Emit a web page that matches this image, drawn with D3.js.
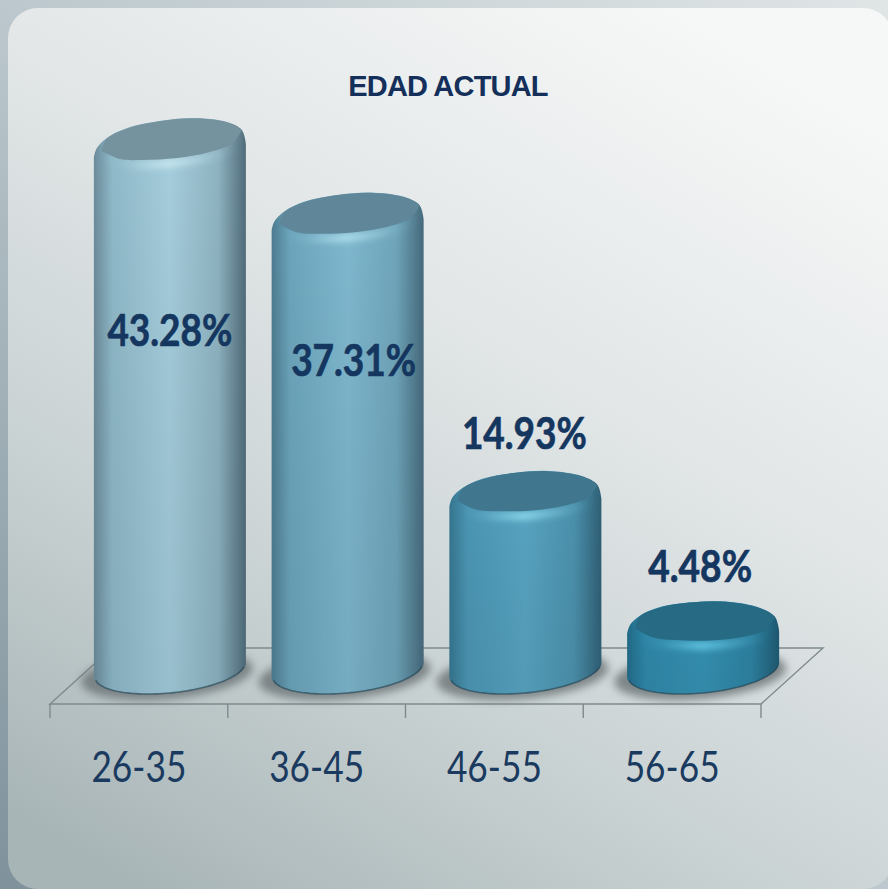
<!DOCTYPE html>
<html>
<head>
<meta charset="utf-8">
<script src="https://cdn.jsdelivr.net/npm/d3@7"></script>
<style>
  html, body { margin: 0; padding: 0; overflow: hidden; }
  svg { display: block; }
</style>
</head>
<body>
<svg id="drawing_region"></svg>
<script>
const title = "EDAD ACTUAL";
const categories = ["26-35", "36-45", "46-55", "56-65"];
const values = [43.28, 37.31, 14.93, 4.48];

// colours per bar: [edge left, mid, centre, mid right, edge right, top face, rim light]
const barColors = [
    ["#6c8c9b", "#8fb9c9", "#a6cedd", "#8eb3c1", "#516c7a", "#75929f", "#c8e8f0"],
    ["#4d7c90", "#6ca5bc", "#7fb8cf", "#6fa5ba", "#466a7c", "#5f8699", "#b0e0ec"],
    ["#357690", "#4c97b5", "#58a5c3", "#4c92ae", "#2f6076", "#40778f", "#90dcee"],
    ["#226c8a", "#2f88aa", "#3492b4", "#2d82a2", "#1f5a72", "#276a84", "#66cae6"]
];
const labelShift = [228, 184, -21, -18];   // label baseline relative to bar top
const labelNudge = [0, 6, -1, -3];
const flatten = [0, 0.015, 0.035, 0.07];   // caps lean less towards the right of the picture

// cylinder cap outlines, as [dx from centre, dy from bar top]
const shoulder = [[-76, 39], [-73, 30], [-63, 20], [-43, 10], [-10, 3], [23, 0], [57, 4], [72, 12], [76, 26]];
const faceBack = [[-68, 33], [-64, 21.5], [-43, 10.5], [-10, 3], [23, 0.3], [57, 4.3], [72, 12]];
const faceFront = [[72, 12], [63, 25], [40, 34], [7, 40], [-27, 42], [-50, 41], [-68, 33]];

const width = 888, height = 889;
const floor = {left: 50, right: 761, front: 704, back: 648, depthX: 62};
const barW = 152, rise = 31, baseY = 694;

const svg = d3.select("#drawing_region").attr("width", width).attr("height", height);
const defs = svg.append("defs");

function linGrad(id, x1, y1, x2, y2, stops) {
    const g = defs.append("linearGradient").attr("id", id)
        .attr("x1", x1).attr("y1", y1).attr("x2", x2).attr("y2", y2);
    stops.forEach(s => g.append("stop").attr("offset", s[0]).attr("stop-color", s[1]).attr("stop-opacity", s[2] === undefined ? 1 : s[2]));
}

linGrad("outerBg", 0, 1, 1, 0, [[0, "#7f929c"], [0.5, "#bcc8cd"], [1, "#e0e5e6"]]);
linGrad("cardBg", 0.15, 1, 0.75, 0, [[0, "#a8b5b7"], [0.3, "#c8d1d2"], [0.65, "#e3e7e8"], [1, "#f6f7f7"]]);
linGrad("sideShade", 0, 0, 0, 1, [[0, "#000", 0], [1, "#203a44", 0.1]]);

[["blur4", 4], ["blur3", 3], ["soft", 0.6]].forEach(b => {
    defs.append("filter").attr("id", b[0])
        .attr("x", "-30%").attr("y", "-60%").attr("width", "160%").attr("height", "220%")
        .append("feGaussianBlur").attr("stdDeviation", b[1]);
});

svg.append("rect").attr("width", width).attr("height", height).attr("fill", "url(#outerBg)");
svg.append("rect").attr("x", 8).attr("y", 8).attr("width", 885).attr("height", 881)
    .attr("rx", 30).attr("fill", "url(#cardBg)");

const x = d3.scaleBand().domain(categories).range([floor.left, floor.right]);
const y = d3.scaleLinear().domain([0, 43.28]).range([655.6, 118]);

const chart = svg.append("g");

// floor
const floorPath = d3.path();
floorPath.moveTo(floor.left, floor.front);
floorPath.lineTo(floor.right, floor.front);
floorPath.lineTo(floor.right + floor.depthX, floor.back);
floorPath.lineTo(floor.left + floor.depthX, floor.back);
floorPath.closePath();
chart.append("path").attr("d", floorPath.toString())
    .attr("fill", "none").attr("stroke", "#7f8a8d").attr("stroke-width", 1.4);

// ticks at the band edges
const edges = categories.map(c => x(c)).concat([floor.right]);
chart.selectAll(".edge").data(edges).enter().append("line")
    .attr("class", "edge")
    .attr("x1", d => d).attr("x2", d => d)
    .attr("y1", floor.front).attr("y2", floor.front + 14)
    .attr("stroke", "#7f8a8d").attr("stroke-width", 1.4);

// tilted ellipse, k leans the right side up
function ellArc(cx, cy, rx, b, k, t0, t1) {
    const pts = d3.range(0, 61).map(i => {
        const t = t0 + (t1 - t0) * i / 60;
        return [cx + rx * Math.cos(t), cy + b * Math.sin(t) + k * Math.cos(t)];
    });
    return d3.line()(pts);
}
const capLine = d3.line().curve(d3.curveCatmullRom);

const rx = barW / 2;

const bars = chart.selectAll(".bar").data(values).enter().append("g").attr("class", "bar");

bars.each(function(v, i) {
    const g = d3.select(this);
    const c = barColors[i];
    const cx = x(categories[i]) + x.bandwidth() / 2 + rise;
    const topY = y(v);
    const botC = baseY - 24;
    const place = (profile, dy) => profile.map(p => [cx + p[0], topY + p[1] + (dy || 0) + p[0] * flatten[i]]);

    linGrad("body" + i, 0, 0, 1, 0, [[0, c[0]], [0.12, c[1]], [0.5, c[2]], [0.82, c[3]], [1, c[4]]]);

    // ground shadow
    g.append("path")
        .attr("d", ellArc(cx - 3, botC + 5, rx + 10, 24, -7, 0, Math.PI * 2) + "Z")
        .attr("fill", "#6b7275").attr("opacity", 0.8).attr("filter", "url(#blur4)");

    const shape = g.append("g").attr("filter", "url(#soft)");

    // body outline: shoulder over the top, sides, front of the foot
    const body = capLine(place(shoulder))
        + "L" + ellArc(cx, botC, rx, 23, -7, 0, Math.PI).slice(1) + "Z";
    shape.append("path").attr("d", body).attr("fill", `url(#body${i})`);
    shape.append("path").attr("d", body).attr("fill", "url(#sideShade)");

    // dark seam along the foot
    shape.append("path")
        .attr("d", ellArc(cx, botC, rx - 1, 23, -7, 0.15, Math.PI - 0.15))
        .attr("fill", "none").attr("stroke", "#2c4a58").attr("stroke-width", 1.6).attr("opacity", 0.7);

    // rim highlight below the top face
    const clipId = "clip" + i;
    defs.append("clipPath").attr("id", clipId).append("path").attr("d", body);
    const rim = shape.append("g").attr("clip-path", `url(#${clipId})`);
    linGrad("rim" + i, 1, 0, 0, 0, [[0, c[3], 0], [0.28, c[6], 0.4], [0.52, c[6], 1], [0.7, c[6], 0.5], [1, c[1], 0]]);
    rim.append("path")
        .attr("d", capLine(place(faceFront, 5)))
        .attr("fill", "none").attr("stroke", `url(#rim${i})`).attr("stroke-width", 7).attr("filter", "url(#blur3)");

    // top face
    shape.append("path")
        .attr("d", capLine(place(faceBack)) + "L" + capLine(place(faceFront)).slice(1) + "Z")
        .attr("fill", c[5]);
});

// value labels
chart.selectAll(".value").data(values).enter().append("text")
    .attr("class", "value")
    .attr("x", (d, i) => x(categories[i]) + x.bandwidth() / 2 + rise + labelNudge[i])
    .attr("y", (d, i) => y(d) + labelShift[i])
    .attr("text-anchor", "middle")
    .attr("font-family", "Lato")
    .attr("font-weight", 700)
    .attr("font-size", 44)
    .attr("fill", "#14365f")
    .attr("stroke", "#14365f")
    .attr("stroke-width", 0.7)
    .attr("textLength", (d, i) => i === 3 ? 104 : 125)
    .attr("lengthAdjust", "spacingAndGlyphs")
    .text(d => d.toFixed(2) + "%");

// category labels
const xaxis = d3.axisBottom(x).tickSize(0).tickPadding(0);
const xg = chart.append("g").attr("transform", `translate(0, ${floor.front + 47})`).call(xaxis);
xg.select(".domain").remove();
xg.selectAll("text")
    .attr("dy", 0).attr("y", 31)
    .attr("font-family", "Lato")
    .attr("font-size", 43)
    .attr("fill", "#1a3a5f")
    .attr("textLength", 95)
    .attr("lengthAdjust", "spacingAndGlyphs");

// title
svg.append("text")
    .attr("x", 448).attr("y", 96)
    .attr("text-anchor", "middle")
    .attr("font-family", "Liberation Sans")
    .attr("font-weight", 700)
    .attr("font-size", 29)
    .attr("letter-spacing", -0.8)
    .attr("fill", "#14305a")
    .text(title);
</script>
</body>
</html>
